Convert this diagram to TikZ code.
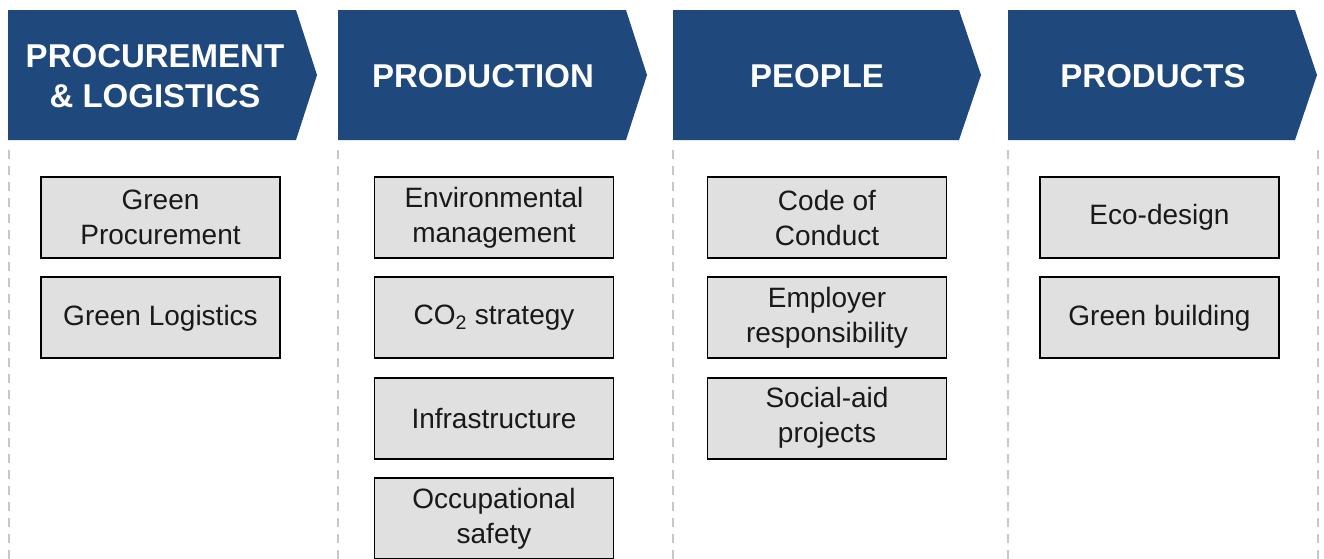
\documentclass[tikz,border=0pt]{standalone}
\usepackage{fontspec}
\setmainfont{Liberation Sans}
\usetikzlibrary{positioning}

\definecolor{headblue}{RGB}{31,73,125}
\definecolor{boxgray}{RGB}{224,224,224}
\definecolor{sepgray}{RGB}{200,200,200}

\tikzset{
  header/.style={text=white, font=\fontsize{33}{40}\selectfont\bfseries, align=center},
  item/.style={draw=black, line width=1.8pt, fill=boxgray, text=black!90,
    minimum width=239pt, minimum height=81pt, inner sep=0pt, align=center,
    font=\fontsize{28}{35}\selectfont},
  sepline/.style={sepgray, line width=1.6pt, dash pattern=on 9pt off 7pt}
}

\begin{document}
\begin{tikzpicture}[x=1pt,y=-1pt]

  \useasboundingbox (0,0) rectangle (1324,558);
  \clip (0,0) rectangle (1324,558);

  % Header chevrons
  \fill[headblue] (8,10) -- (296,10) -- (317,75) -- (296,140) -- (8,140) -- cycle;
  \fill[headblue] (338,10) -- (626,10) -- (647,75) -- (626,140) -- (338,140) -- cycle;
  \fill[headblue] (673,10) -- (959,10) -- (981,75) -- (959,140) -- (673,140) -- cycle;
  \fill[headblue] (1008,10) -- (1295,10) -- (1317,75) -- (1295,140) -- (1008,140) -- cycle;

  \node[header] (proc) at (155,76) {PROCUREMENT\\\& LOGISTICS};
  \node[header] (prod) at (483,76) {PRODUCTION};
  \node[header] (people) at (817,76) {PEOPLE};
  \node[header] (products) at (1153,76) {PRODUCTS};

  % Column separators
  \foreach \x in {9,338,673,1008,1318}
    \draw[sepline] (\x,150) -- (\x,560);

  % Procurement & logistics
  \node[item] (gproc) at (160.5,217.5) {Green\\Procurement};
  \node[item, below=17.5pt of gproc] (glog) {Green Logistics};

  % Production
  \node[item] (envm) at (494,217.5) {Environmental\\management};
  \node[item, below=17.5pt of envm] (co2) {CO\textsubscript{2} strategy};
  \node[item, below=17.5pt of co2] (infra) {Infrastructure};
  \node[item, below=17.5pt of infra] (occsafe) {Occupational\\safety};

  % People
  \node[item] (code) at (827,217.5) {Code of\\Conduct};
  \node[item, below=17.5pt of code] (employer) {Employer\\responsibility};
  \node[item, below=17.5pt of employer] (social) {Social-aid\\projects};

  % Products
  \node[item] (ecodesign) at (1159.5,217.5) {Eco-design};
  \node[item, below=17.5pt of ecodesign] (gbuild) {Green building};

\end{tikzpicture}
\end{document}
